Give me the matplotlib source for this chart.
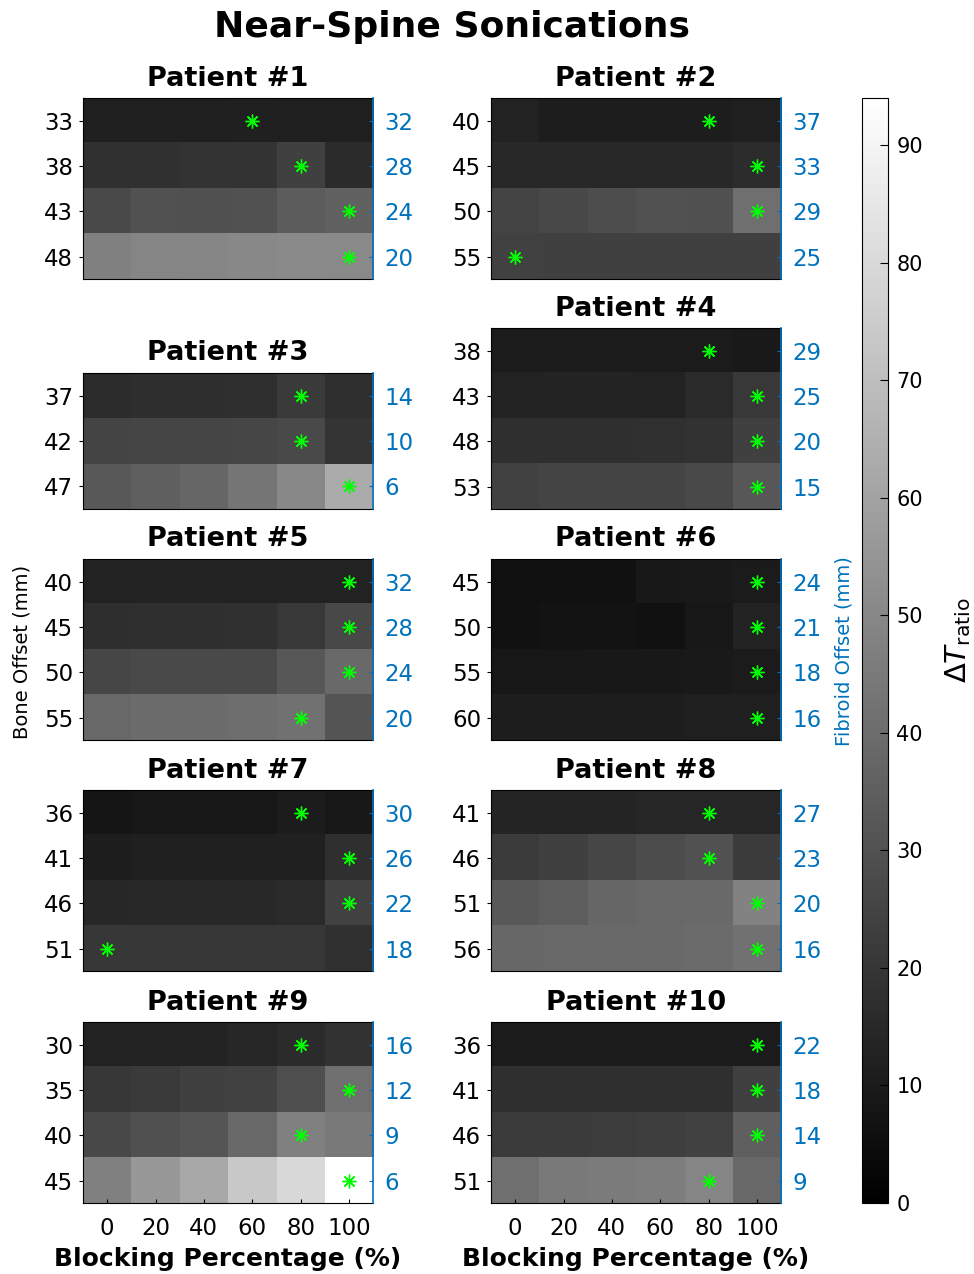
import numpy as np
import matplotlib
matplotlib.use("Agg")
import matplotlib.pyplot as plt

plt.rcParams['font.family'] = ['DejaVu Sans']

blocking = [0, 20, 40, 60, 80, 100]
vmax = 94
blue = '#0072BD'

# bone offsets (left axis), fibroid offsets (right axis) per patient
bone = [
    [33, 38, 43, 48],
    [40, 45, 50, 55],
    [37, 42, 47],
    [38, 43, 48, 53],
    [40, 45, 50, 55],
    [45, 50, 55, 60],
    [36, 41, 46, 51],
    [41, 46, 51, 56],
    [30, 35, 40, 45],
    [36, 41, 46, 51],
]
fibroid = [
    [32, 28, 24, 20],
    [37, 33, 29, 25],
    [14, 10, 6],
    [29, 25, 20, 15],
    [32, 28, 24, 20],
    [24, 21, 18, 16],
    [30, 26, 22, 18],
    [27, 23, 20, 16],
    [16, 12, 9, 6],
    [22, 18, 14, 9],
]

# delta T ratio, one row per bone offset, one column per blocking percentage
dt1 = [[11.5, 11.5, 11.5, 12, 11.5, 11.5],
       [18, 18, 19, 19, 23.5, 16],
       [27, 30, 29.5, 30, 34, 36],
       [47, 49, 49.5, 50, 51, 50.5]]
dt2 = [[12.5, 11, 11, 11, 11, 11.5],
       [15, 15, 15, 15, 15, 16.5],
       [25, 26.5, 28.5, 30, 29.5, 41],
       [24, 23.5, 23.5, 23.5, 23.5, 23.5]]
dt3 = [[16.5, 17, 17, 17.5, 21.5, 17.5],
       [25, 25.5, 25.5, 26, 27.5, 19.5],
       [32.5, 35, 37.5, 43, 50, 63]]
dt4 = [[10, 10, 10, 10, 10, 9.5],
       [12.5, 13, 13, 12.5, 15.5, 21],
       [17.5, 17.5, 17.5, 18, 18.5, 23.5],
       [24, 25, 25, 25, 27, 32]]
dt5 = [[12.5, 12.5, 12.5, 12.5, 12.5, 12.5],
       [17, 17.5, 17.5, 18, 21, 26.5],
       [26, 27, 27, 27.5, 32, 39],
       [38.5, 40, 40, 40.5, 42, 31]]
dt6 = [[6, 6, 6.5, 9, 9.5, 10],
       [6.5, 7, 7, 6.5, 8.5, 12.5],
       [8.5, 8.5, 9, 9, 9.5, 10],
       [11, 11, 11, 11, 11.5, 11.5]]
dt7 = [[8, 8.5, 8.5, 8.5, 10.5, 9],
       [11, 11.5, 11.5, 11.5, 12, 17.5],
       [14.5, 15, 15, 15, 15.5, 24],
       [20.5, 20.5, 20.5, 20.5, 20.5, 18]]
dt8 = [[13.5, 13.5, 13.5, 14, 14, 14],
       [22, 23.5, 26, 28, 30, 22],
       [32.5, 34.5, 37.5, 38.5, 39, 48],
       [38, 38.5, 39, 39, 39.5, 41.5]]
dt9 = [[12.5, 12.5, 13, 14.5, 16, 18.5],
       [20.5, 21.5, 23.5, 24, 29, 41],
       [26.5, 29.5, 31.5, 38.5, 47, 45],
       [47, 56, 62, 73.5, 79.5, 94]]
dt10 = [[10, 10, 10, 10, 10, 10],
        [17.5, 17.5, 17.5, 17.5, 17.5, 23.5],
        [22, 22, 22.5, 23, 24, 35],
        [41, 45, 45.5, 46, 49, 38.5]]
dt_all = [dt1, dt2, dt3, dt4, dt5, dt6, dt7, dt8, dt9, dt10]

# blocking percentage of the chosen sonication for each bone offset
best = [
    [60, 80, 100, 100],
    [80, 100, 100, 0],
    [80, 80, 100],
    [80, 100, 100, 100],
    [100, 100, 100, 80],
    [100, 100, 100, 100],
    [80, 100, 100, 0],
    [80, 80, 100, 100],
    [80, 100, 80, 100],
    [100, 100, 100, 80],
]

W, H = 974, 1274
fig = plt.figure(figsize=(W / 100, H / 100), dpi=100)


def box(x0, y0, w, h):
    return [x0 / W, 1 - (y0 + h) / H, w / W, h / H]


col_x = [83, 491]
tops = [98, 98, 373, 328, 559, 559, 790, 790, 1022, 1022]
row_h = 45.3
cell_w = 290

for i in range(10):
    data = np.array(dt_all[i])
    n = data.shape[0]
    ax = fig.add_axes(box(col_x[i % 2], tops[i], cell_w, row_h * n))
    im = ax.imshow(data, cmap='gray', vmin=0, vmax=vmax, aspect='auto',
                   interpolation='nearest',
                   extent=(-10, 110, n - 0.5, -0.5))
    rows = np.arange(n)
    ax.plot(best[i], rows, ls='none', marker=(8, 2, 0), color='#00ff00',
            markersize=10, mew=1.0)
    ax.set_xlim(-10, 110)
    ax.set_ylim(n - 0.5, -0.5)
    ax.set_yticks(rows)
    ax.set_yticklabels(bone[i])
    ax.tick_params(axis='y', labelsize=16.5, direction='out', length=3, pad=4)
    if i >= 8:
        ax.set_xticks(blocking)
        ax.tick_params(axis='x', labelsize=16.5, direction='in', length=3, pad=10)
        ax.set_xlabel('Blocking Percentage (%)', fontsize=18, fontweight='bold',
                      labelpad=5)
    else:
        ax.set_xticks([])
    ax.set_title(f'Patient #{i + 1}', fontsize=19.5, fontweight='bold', pad=9)
    ax.spines['right'].set_visible(False)

    ax2 = ax.twinx()
    ax2.set_ylim(n - 0.5, -0.5)
    ax2.set_yticks(rows)
    ax2.set_yticklabels(fibroid[i])
    ax2.tick_params(axis='y', labelsize=16.5, colors=blue, direction='in',
                    length=3, pad=8)
    ax2.spines['right'].set_color(blue)
    ax2.spines['right'].set_linewidth(1.2)
    for s in ['left', 'top', 'bottom']:
        ax2.spines[s].set_visible(False)

cax = fig.add_axes(box(862, 98, 26, 1105))
cb = fig.colorbar(im, cax=cax)
cb.set_ticks(np.arange(0, 91, 10))
cax.tick_params(labelsize=15, direction='in', length=6, pad=6)

fig.text(452 / W, 1 - 27 / H, 'Near-Spine Sonications', ha='center', va='center',
         fontsize=26, fontweight='bold')
fig.text(22 / W, 1 - 652 / H, 'Bone Offset (mm)', rotation=90, ha='center',
         va='center', fontsize=14)
fig.text(844 / W, 1 - 651 / H, 'Fibroid Offset (mm)', rotation=90, ha='center',
         va='center', fontsize=14, color=blue)
fig.text(958 / W, 1 - 640 / H, r'$\Delta T_{\mathrm{ratio}}$', rotation=90,
         ha='center', va='center', fontsize=21)

fig.savefig('out.png', dpi=100)
